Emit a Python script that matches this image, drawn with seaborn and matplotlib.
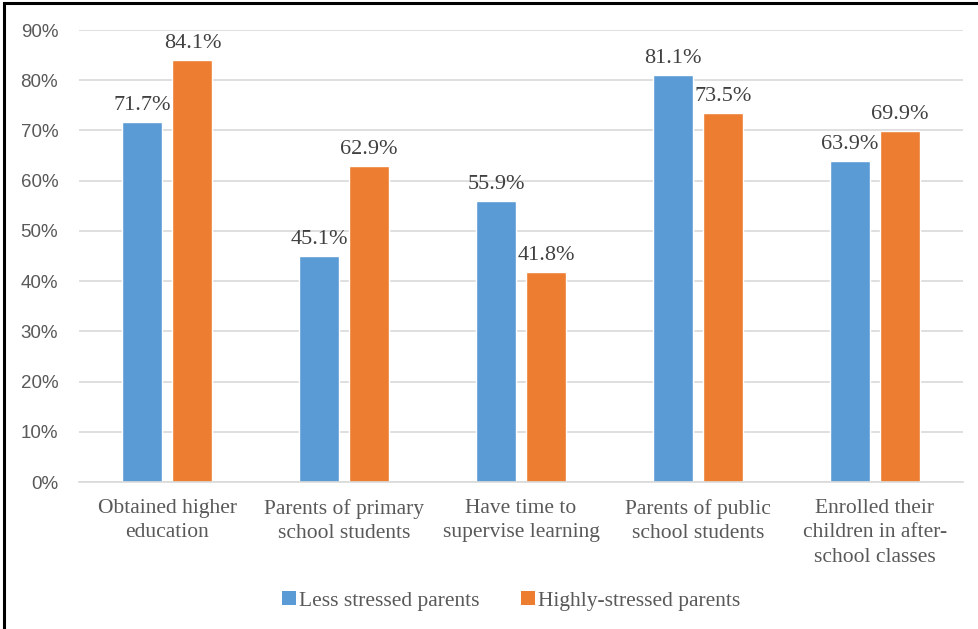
import matplotlib
matplotlib.use("Agg")
import matplotlib.pyplot as plt
import seaborn as sns
import pandas as pd
from matplotlib.patches import Rectangle, Patch

categories = [
    "Obtained higher\neducation",
    "Parents of primary\nschool students",
    "Have time to\nsupervise learning",
    "Parents of public\nschool students",
    "Enrolled their\nchildren in after-\nschool classes",
]
less_stressed = [71.7, 45.1, 55.9, 81.1, 63.9]
highly_stressed = [84.1, 62.9, 41.8, 73.5, 69.9]
series_names = ["Less stressed parents", "Highly-stressed parents"]
y_ticks = [0, 10, 20, 30, 40, 50, 60, 70, 80, 90]

colors = ["#5B9BD5", "#ED7D31"]

df = pd.DataFrame({
    "category": categories * 2,
    "value": less_stressed + highly_stressed,
    "group": [series_names[0]] * len(categories) + [series_names[1]] * len(categories),
})

sns.set_theme(style="white")
plt.rcParams["font.family"] = ["Liberation Serif", "DejaVu Serif"]

fig = plt.figure(figsize=(9.79, 6.29), dpi=100)
ax = fig.add_axes([0.0807, 0.2337, 0.9030, 0.7186])

sns.barplot(data=df, x="category", y="value", hue="group", palette=colors,
            width=0.566, gap=0.2, ax=ax, legend=False, saturation=1)

ax.set_ylim(0, 90)
ax.set_yticks(y_ticks)
ax.set_yticklabels([f"{t}%" for t in y_ticks], family="Liberation Sans",
                   fontsize=13.5, color="#595959")
ax.set_xlabel("")
ax.set_ylabel("")
ax.tick_params(axis="x", length=0, pad=12, labelsize=15.5, labelcolor="#595959")
for lbl in ax.get_xticklabels():
    lbl.set_linespacing(1.4)
ax.tick_params(axis="y", length=0, pad=15)
ax.grid(axis="y", color="#D9D9D9", linewidth=1.2)
ax.set_axisbelow(True)
for s in ["top", "right", "left"]:
    ax.spines[s].set_visible(False)
ax.spines["bottom"].set_color("#D9D9D9")
ax.spines["bottom"].set_linewidth(1.2)

for container in ax.containers:
    ax.bar_label(container, labels=[f"{v:.1f}%" for v in container.datavalues],
                 padding=5, fontsize=16, color="#404040")

handles = [Patch(facecolor=c, edgecolor="none") for c in colors]
fig.legend(handles, series_names, loc="center", bbox_to_anchor=(0.522, 0.045),
           ncol=2, frameon=False, fontsize=15.5, handlelength=0.65, handleheight=0.65,
           handletextpad=0.15, columnspacing=1.9, labelcolor="#595959")

# frame along the top and left edges
fig.patches.append(Rectangle((4.5 / 979, -0.1), 1.2, 1.1 - 3.5 / 629,
                             transform=fig.transFigure, fill=False,
                             edgecolor="black", linewidth=2.2, zorder=10))

fig.savefig("out.png", dpi=100)
